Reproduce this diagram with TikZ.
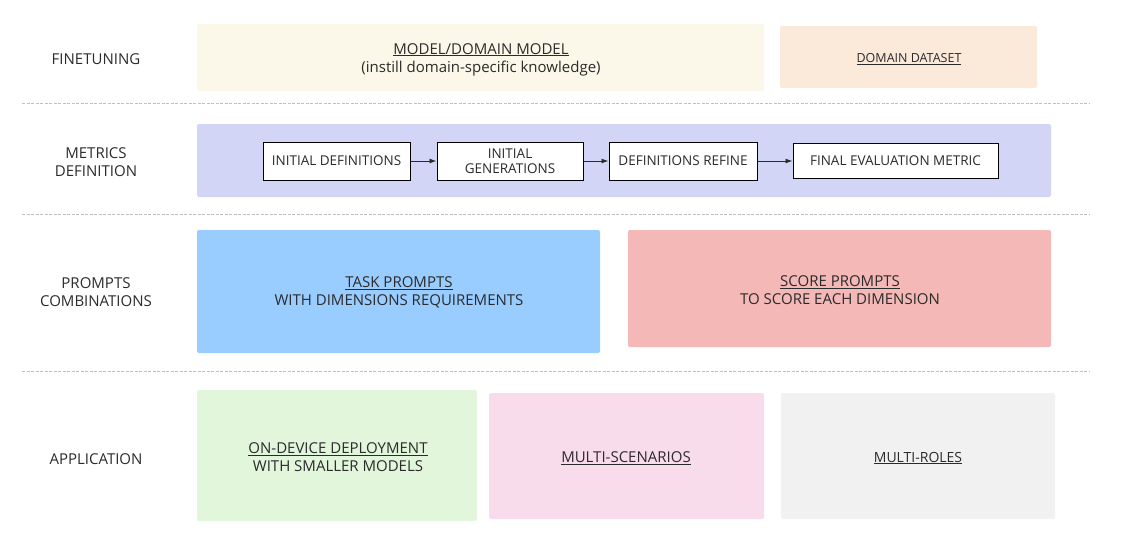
\documentclass[tikz,border=0pt]{standalone}
\usepackage{fontspec}
\setmainfont{Open Sans}
\usetikzlibrary{arrows.meta,positioning}

\definecolor{creamfill}{HTML}{FBF7E9}
\definecolor{peachfill}{HTML}{FBE9DA}
\definecolor{lavfill}{HTML}{D3D5F6}
\definecolor{bluefill}{HTML}{99CCFF}
\definecolor{redfill}{HTML}{F4B8B7}
\definecolor{greenfill}{HTML}{E2F6DB}
\definecolor{pinkfill}{HTML}{F9DCEB}
\definecolor{greyfill}{HTML}{F1F1F1}
\definecolor{txt}{HTML}{2B2B2B}

\begin{document}
\begin{tikzpicture}[x=1pt,y=-1pt,
    font=\fontsize{15}{18}\selectfont, text=txt,
    rowlabel/.style={align=center},
    panel/.style={rounded corners=2pt, inner sep=0pt},
    stagebox/.style={draw=black, line width=1pt, fill=white, align=center,
        inner sep=0pt, minimum height=38pt, font=\fontsize{13.5}{15.5}\selectfont},
    sep/.style={draw=black!25, dashed, dash pattern=on 3pt off 1.5pt, line width=0.8pt},
    flow/.style={-{Latex[length=7pt,width=5pt]}, draw=txt, line width=0.9pt}]
    \useasboundingbox (0,0) rectangle (1124,542);
    % row labels
    \node[rowlabel] (lfine) at (96,59) {FINETUNING};
    \node[rowlabel] (lmetric) at (96,162) {METRICS\\DEFINITION};
    \node[rowlabel] (lprompt) at (96,292.5) {PROMPTS\\COMBINATIONS};
    \node[rowlabel] (lapp) at (96,459) {APPLICATION};
    % separators
    \draw[sep] (22,103) -- (1090,103);
    \draw[sep] (22,214) -- (1090,214);
    \draw[sep] (22,371) -- (1090,371);
    % finetuning
    \fill[creamfill, panel] (197,24) rectangle (764,91);
    \node[align=center] (model) at (481,59.5) {\underline{MODEL/DOMAIN MODEL}\\(instill domain-specific knowledge)};
    \fill[peachfill, panel] (780,26) rectangle (1037,88);
    \node (dataset) at (909,59) {\fontsize{12.5}{15}\selectfont\underline{DOMAIN DATASET}};
    % metrics definition
    \fill[lavfill, panel] (197,124) rectangle (1051,197);
    \node[stagebox, minimum width=147pt] (initdef) at (336.5,161) {INITIAL DEFINITIONS};
    \node[stagebox, minimum width=146pt] (initgen) at (510,161) {INITIAL\\GENERATIONS};
    \node[stagebox, minimum width=148pt] (refine) at (683,161) {DEFINITIONS REFINE};
    \node[stagebox, minimum width=205pt, minimum height=35pt] (final) at (895.5,161) {FINAL EVALUATION METRIC};
    \draw[flow] (initdef) -- (initgen);
    \draw[flow] (initgen) -- (refine);
    \draw[flow] (refine) -- (final);
    % prompts combinations
    \fill[bluefill, panel] (197,230) rectangle (600,353);
    \node[align=center] (task) at (399,292.5) {\underline{TASK PROMPTS}\\WITH DIMENSIONS REQUIREMENTS};
    \fill[redfill, panel] (628,230) rectangle (1051,347);
    \node[align=center] (score) at (840,290.5) {\underline{SCORE PROMPTS}\\TO SCORE EACH DIMENSION};
    % application
    \fill[greenfill, panel] (197,390) rectangle (477,521);
    \node[align=center] (device) at (338,457.5) {\underline{ON-DEVICE DEPLOYMENT}\\WITH SMALLER MODELS};
    \fill[pinkfill, panel] (489,393) rectangle (764,519);
    \node (scen) at (626,458) {\underline{MULTI-SCENARIOS}};
    \fill[greyfill, panel] (781,393) rectangle (1055,519);
    \node (roles) at (918,458) {\fontsize{14}{17}\selectfont\underline{MULTI-ROLES}};
\end{tikzpicture}
\end{document}
